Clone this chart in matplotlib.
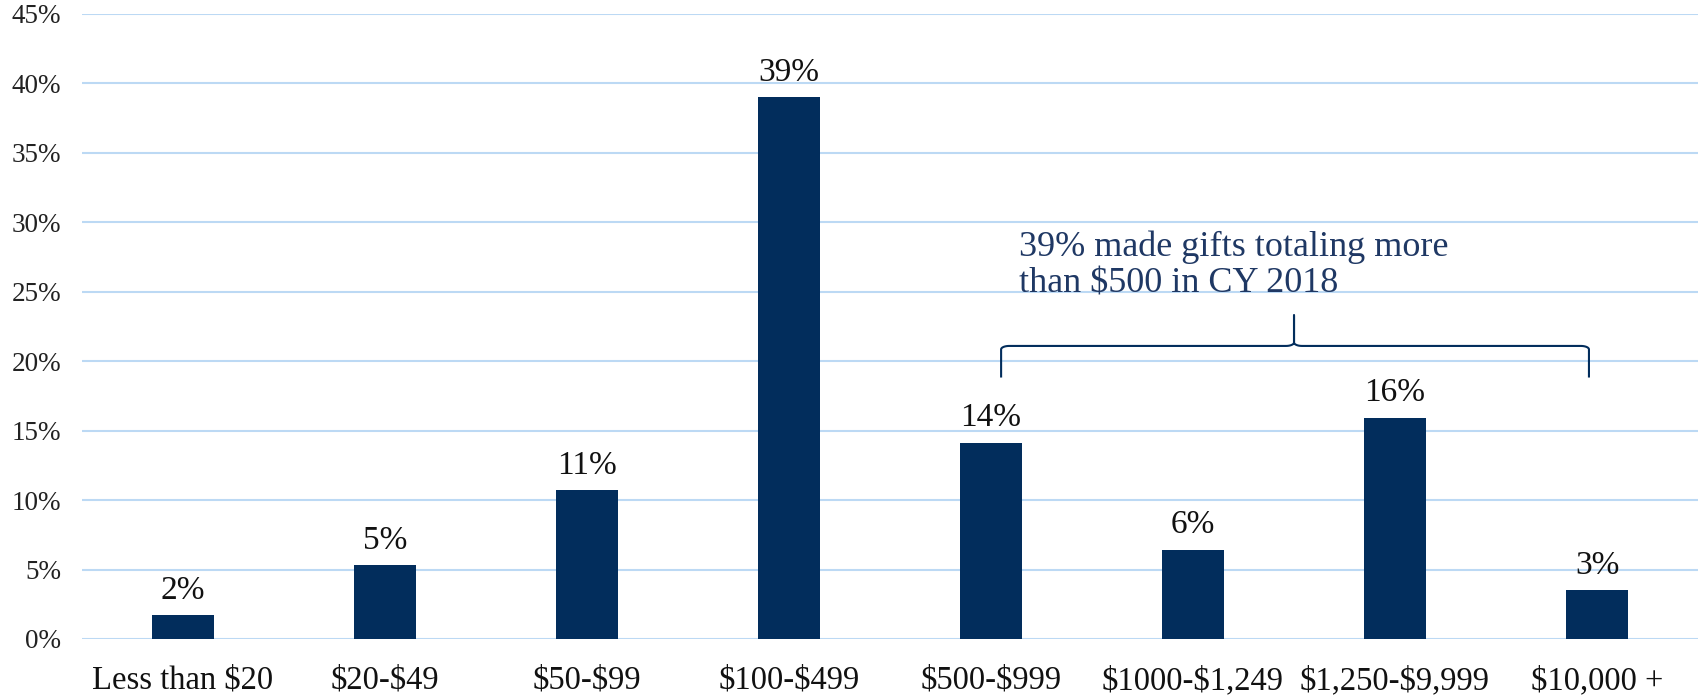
import numpy as np
import matplotlib
matplotlib.use('Agg')
import matplotlib.pyplot as plt

plt.rcParams['font.family'] = ['Liberation Serif', 'DejaVu Serif']
plt.rcParams['text.parse_math'] = False

# data
categories = ['Less than $20', '$20-$49', '$50-$99', '$100-$499', '$500-$999',
              '$1000-$1,249', '$1,250-$9,999', '$10,000 +']
shares = [1.7, 5.3, 10.7, 39.0, 14.1, 6.4, 15.9, 3.5]
share_labels = ['2%', '5%', '11%', '39%', '14%', '6%', '16%', '3%']
note = '39% made gifts totaling more\nthan $500 in CY 2018'

navy = '#022d5c'
grid_blue = '#bcd9f4'

fig = plt.figure(figsize=(17.04, 6.96), dpi=100)
ax = fig.add_axes([0.0481, 0.0819, 0.9484, 0.898])

x = np.arange(len(categories))
bars = ax.bar(x, shares, width=0.31, color=navy, zorder=3)

for b, lab in zip(bars, share_labels):
    ax.annotate(lab, (b.get_x() + b.get_width() / 2, b.get_height()),
                xytext=(0, 7), textcoords='offset points',
                ha='center', va='bottom', fontsize=24, color='#111111')

ax.set_xlim(-0.5, len(categories) - 0.5)
ax.set_ylim(0, 45)
ax.set_yticks(np.arange(0, 46, 5))
ax.set_yticklabels([f'{v}%' for v in range(0, 46, 5)], fontsize=19.5, color='#222222')
ax.set_xticks(x)
ax.set_xticklabels(categories, fontsize=23.5, color='#111111')
ax.tick_params(axis='y', length=0, pad=15)
ax.tick_params(axis='x', length=0, pad=19)
ax.grid(axis='y', color=grid_blue, linewidth=1.5, zorder=0)
for s in ax.spines.values():
    s.set_visible(False)

# curly bracket over the $500+ groups
x0, x1, xm = 4.05, 6.96, 5.5
y_end, y_bar, y_tip = 18.9, 21.1, 23.3
r = 0.04
t = np.linspace(0, np.pi / 2, 12)
ry = 0.25
left = np.column_stack([x0 + r - r * np.cos(t), y_bar - ry + ry * np.sin(t)])
mid_l = np.column_stack([xm - r + r * np.sin(t), y_bar + ry - ry * np.cos(t)])
mid_r = np.column_stack([xm + r - r * np.sin(t[::-1]), y_bar + ry - ry * np.cos(t[::-1])])
right = np.column_stack([x1 - r + r * np.cos(t[::-1]), y_bar - ry + ry * np.sin(t[::-1])])
pts = np.vstack([[x0, y_end], left, mid_l, [[xm, y_tip]], mid_r, right, [x1, y_end]])
ax.plot(pts[:, 0], pts[:, 1], color=navy, linewidth=1.5, zorder=4)

ax.text(4.14, 24.4, note, fontsize=26, color='#1f3864', ha='left', va='bottom',
        linespacing=1.12, zorder=5)

plt.savefig('out.png', dpi=100)
